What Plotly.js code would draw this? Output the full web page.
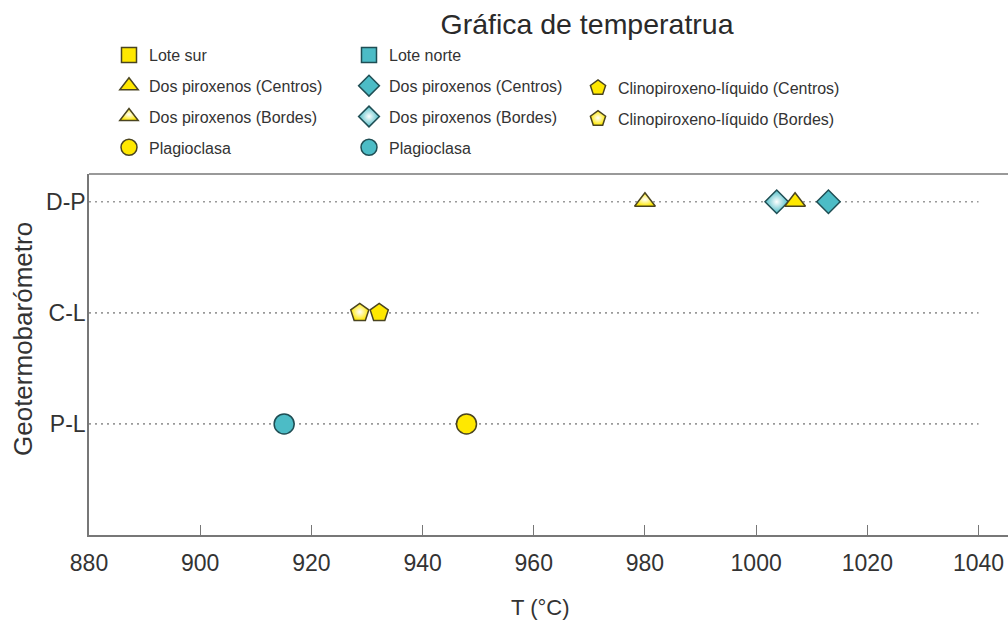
<!DOCTYPE html>
<html><head><meta charset="utf-8">
<script src="https://cdn.plot.ly/plotly-3.0.1.min.js"></script>
<style>html,body{margin:0;padding:0;background:#fff}#chart{width:1008px;height:626px}</style>
</head><body><div id="chart"></div>
<script>
// ---- data ----
const categories = ['P-L', 'C-L', 'D-P'];
const xTickVals = [880, 900, 920, 940, 960, 980, 1000, 1020, 1040];
const xRangeMax = 1045.3;

// Lote sur (yellow)
const surDosCentrosT = [1007];   const surDosCentrosCat = ['D-P'];
const surDosBordesT  = [980];    const surDosBordesCat  = ['D-P'];
const surClinoCentrosT = [932.2]; const surClinoCentrosCat = ['C-L'];
const surClinoBordesT  = [928.7]; const surClinoBordesCat  = ['C-L'];
const surPlagT = [947.9];        const surPlagCat = ['P-L'];
// Lote norte (cyan)
const norteDosCentrosT = [1013];   const norteDosCentrosCat = ['D-P'];
const norteDosBordesT  = [1003.7]; const norteDosBordesCat  = ['D-P'];
const nortePlagT = [915.1];        const nortePlagCat = ['P-L'];

const titleText = 'Gráfica de temperatrua';
const xTitle = 'T (°C)';
const yTitle = 'Geotermobarómetro';

// ---- styles ----
const FONT = 'Liberation Sans, Arial, sans-serif';
const YEL = '#ffe800', YEL_LINE = '#4a4420';
const CYA = '#4cbcc6', CYA_LINE = '#1f4e54';
const LW = 1.5;
const PL = 89, PR = 1008, PT = 174, PB = 535;
function px2x(px) { return (px - PL) / (PR - PL); }
function py2y(py) { return (PB - py) / (PB - PT); }

function mk(name, legend, rank, x, y, symbol, size, color, lineColor, grad) {
  const marker = {symbol: symbol, size: size, color: color, line: {color: lineColor, width: LW}};
  if (grad) marker.gradient = {type: 'radial', color: '#ffffff'};
  return {type: 'scatter', mode: 'markers', name: name, legend: legend, legendrank: rank,
          legendgroup: legend + '_' + rank,
          x: x, y: y, marker: marker, hoverinfo: 'x+y+name', cliponaxis: false};
}

const traces = [];
// dotted guide lines per category, spanning the tick range
categories.forEach(function (c) {
  traces.push({type: 'scatter', mode: 'lines', x: [xTickVals[0], xTickVals[xTickVals.length - 1]],
    y: [c, c], line: {color: '#9a9a9a', width: 1.6, dash: '2px,4px'}, showlegend: false, hoverinfo: 'skip'});
});

// legend-only entries
traces.push(mk('Lote sur', 'legend', 1, [null], [null], 'square', 15, YEL, YEL_LINE, false));
traces.push(mk('Lote norte', 'legend2', 1, [null], [null], 'square', 15, CYA, CYA_LINE, false));

// data traces (drawing order)
traces.push(mk('Dos piroxenos (Bordes)', 'legend', 3, surDosBordesT, surDosBordesCat, 'triangle-up', 18, YEL, YEL_LINE, true));
traces.push(mk('Dos piroxenos (Bordes)', 'legend2', 3, norteDosBordesT, norteDosBordesCat, 'diamond', 18, CYA, CYA_LINE, true));
traces.push(mk('Dos piroxenos (Centros)', 'legend', 2, surDosCentrosT, surDosCentrosCat, 'triangle-up', 18, YEL, YEL_LINE, false));
traces.push(mk('Dos piroxenos (Centros)', 'legend2', 2, norteDosCentrosT, norteDosCentrosCat, 'diamond', 18, CYA, CYA_LINE, false));
traces.push(mk('Clinopiroxeno-líquido (Centros)', 'legend3', 1, surClinoCentrosT, surClinoCentrosCat, 'pentagon', 19, YEL, YEL_LINE, false));
traces.push(mk('Clinopiroxeno-líquido (Bordes)', 'legend3', 2, surClinoBordesT, surClinoBordesCat, 'pentagon', 19, YEL, YEL_LINE, true));
traces.push(mk('Plagioclasa', 'legend', 4, surPlagT, surPlagCat, 'circle', 20, YEL, YEL_LINE, false));
traces.push(mk('Plagioclasa', 'legend2', 4, nortePlagT, nortePlagCat, 'circle', 20, CYA, CYA_LINE, false));

function legendAt(px, py) {
  return {xref: 'paper', yref: 'paper', x: px2x(px), y: py2y(py),
    xanchor: 'left', yanchor: 'top', bgcolor: 'rgba(0,0,0,0)', borderwidth: 0,
    traceorder: 'grouped', tracegroupgap: 7, itemclick: false, itemdoubleclick: false,
    font: {family: FONT, size: 16, color: '#333'}};
}

const layout = {
  width: 1008, height: 626,
  margin: {l: PL, r: 1008 - PR, t: PT, b: 626 - PB},
  paper_bgcolor: '#ffffff', plot_bgcolor: '#ffffff',
  font: {family: FONT, color: '#333'},
  showlegend: true,
  title: {text: titleText, font: {family: FONT, size: 28.5, color: '#2a2a2a'},
          xref: 'container', yref: 'container', x: 587 / 1008, xanchor: 'center',
          y: 1 - 24 / 626, yanchor: 'middle'},
  xaxis: {range: [xTickVals[0], xRangeMax], tickvals: xTickVals, ticks: 'inside', ticklen: 10,
          tickcolor: '#777', tickwidth: 1.2, showline: true, linecolor: '#777', linewidth: 1.5,
          showgrid: false, zeroline: false, tickfont: {family: FONT, size: 23, color: '#333'},
          ticklabelstandoff: 7, fixedrange: true, automargin: false},
  yaxis: {type: 'category', categoryarray: categories, categoryorder: 'array', range: [-1, 2.25],
          showline: true, linecolor: '#777', linewidth: 1.5, ticks: '', showgrid: false, zeroline: false,
          tickfont: {family: FONT, size: 23, color: '#333'}, ticklabelstandoff: -3, fixedrange: true,
          automargin: false},
  shapes: [{type: 'line', xref: 'paper', yref: 'paper', x0: 0, x1: 1, y0: 1, y1: 1,
            line: {color: '#777', width: 1.5}}],
  annotations: [
    {text: xTitle, xref: 'paper', yref: 'paper', x: px2x(540), y: py2y(607),
     xanchor: 'center', yanchor: 'middle', showarrow: false, font: {family: FONT, size: 22, color: '#333'}},
    {text: yTitle, xref: 'paper', yref: 'paper', x: px2x(23), y: py2y(339), textangle: -90,
     xanchor: 'center', yanchor: 'middle', showarrow: false, font: {family: FONT, size: 26, color: '#333'}}
  ],
  legend: legendAt(109, 38),
  legend2: legendAt(349, 38),
  legend3: legendAt(578, 71)
};

Plotly.newPlot('chart', traces, layout, {displayModeBar: false});
</script>
</body></html>
